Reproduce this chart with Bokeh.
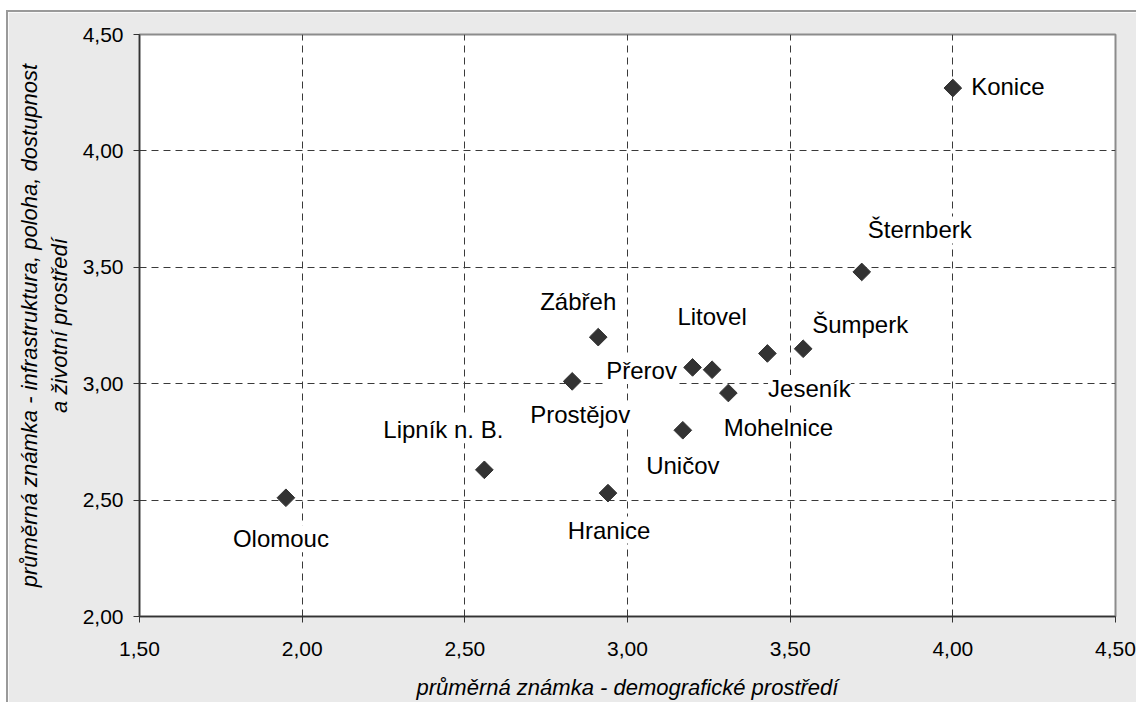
import numpy as np
from bokeh.plotting import figure
from bokeh.models import (ColumnDataSource, LabelSet, FixedTicker, CustomJSTickFormatter,
                          Range1d)
from bokeh.core.properties import value
from bokeh.embed import file_html
from bokeh.resources import INLINE

# --- data ---
towns = ["Olomouc", "Lipník n. B.", "Hranice", "Uničov", "Prostějov", "Zábřeh",
         "Přerov", "Litovel", "Mohelnice", "Jeseník", "Šumperk", "Šternberk", "Konice"]
demo = [1.95, 2.56, 2.94, 3.17, 2.83, 2.91, 3.20, 3.26, 3.31, 3.43, 3.54, 3.72, 4.00]
infra = [2.51, 2.63, 2.53, 2.80, 3.01, 3.20, 3.07, 3.06, 2.96, 3.13, 3.15, 3.48, 4.27]
ticks = [1.5, 2.0, 2.5, 3.0, 3.5, 4.0, 4.5]
yticks = [2.0, 2.5, 3.0, 3.5, 4.0, 4.5]

# label placement (screen pixel offsets from each point; style only)
lab_dx = [-5, -41, 1, 0, 8, -20, -51, 0, 50, 42, 57, 58, 55]
lab_dy = [-41, 40, -37, -35, -33, 36, -3, 53, -34, -35, 24, 42, 2]

FONT = "Liberation Sans"
W, H = 1130, 692

src = ColumnDataSource(dict(x=demo, y=infra, name=towns, dx=lab_dx, dy=lab_dy))

p = figure(width=W, height=H, output_backend="svg", toolbar_location=None,
           x_range=Range1d(1.5, 4.5), y_range=Range1d(2.0, 4.5),
           min_border_left=131, min_border_right=23, min_border_top=22, min_border_bottom=88,
           margin=(10, 0, 0, 6))
p.styles = {"border-left": "2px solid #9a9a9a", "border-top": "2px solid #9a9a9a"}
p.border_fill_color = "#eaeaea"
p.background_fill_color = "white"
p.outline_line_color = "#8c8c8c"
p.outline_line_width = 2

fmt = CustomJSTickFormatter(code="return tick.toFixed(2).replace('.', ',');")
p.xaxis.ticker = FixedTicker(ticks=ticks)
p.yaxis.ticker = FixedTicker(ticks=yticks)
for ax in (p.xaxis[0], p.yaxis[0]):
    ax.formatter = fmt
    ax.major_label_text_font = FONT
    ax.major_label_text_font_size = "21px"
    ax.major_label_text_color = "black"
    ax.axis_line_color = "#333333"
    ax.axis_line_width = 1.5
    ax.major_tick_line_color = "#333333"
    ax.major_tick_out = 6
    ax.major_tick_in = 0
    ax.minor_tick_line_color = None
    ax.axis_label_text_font = FONT
    ax.axis_label_text_font_size = "22px"
    ax.axis_label_text_font_style = "italic"
    ax.axis_label_text_color = "black"
    ax.major_label_standoff = 10

p.xaxis.axis_label = "průměrná známka - demografické prostředí"
p.yaxis.axis_label = "průměrná známka - infrastruktura, poloha, dostupnost\na životní prostředí"
p.xaxis.axis_label_standoff = 16
p.yaxis.axis_label_standoff = 8
p.xaxis.major_label_standoff = 19

for g in (p.xgrid[0], p.ygrid[0]):
    g.grid_line_color = "#3a3a3a"
    g.grid_line_dash = "7 5"
    g.grid_line_width = 1
p.xgrid.ticker = FixedTicker(ticks=ticks)
p.ygrid.ticker = FixedTicker(ticks=yticks)

labels = LabelSet(x="x", y="y", text="name", source=src, x_offset="dx", y_offset="dy",
                  text_align="center", text_baseline="middle",
                  text_font=value(FONT), text_font_size="24px", text_color="black",
                  background_fill_color="white")
p.add_layout(labels)

p.scatter(x="x", y="y", source=src, marker="square", size=12.5, angle=np.pi / 4,
          fill_color="#333333", line_color="#333333")

open("out.html", "w").write(file_html(p, INLINE))
